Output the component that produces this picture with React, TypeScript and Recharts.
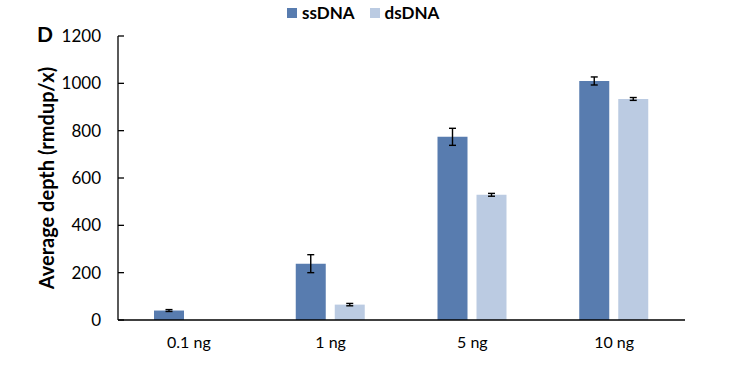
import React from 'react';
import { BarChart, Bar, XAxis, YAxis, ErrorBar, Legend } from 'recharts';

const categories = ['0.1 ng', '1 ng', '5 ng', '10 ng'];
const ssDNA = [40, 238, 774, 1010];
const ssDNAErr = [4, 38, 36, 17];
const dsDNA: (number | null)[] = [null, 65, 529, 934];
const dsDNAErr: (number | null)[] = [null, 5, 6, 6];
const yTicks = [0, 200, 400, 600, 800, 1000, 1200];

const SS_COLOR = '#587CAF';
const DS_COLOR = '#BBCBE2';
const FONT = 'Lato, "Open Sans", sans-serif';

const data = categories.map((c, i) => ({
  name: c,
  ssDNA: ssDNA[i],
  ssErr: ssDNAErr[i],
  dsDNA: dsDNA[i],
  dsErr: dsDNAErr[i],
}));

const LegendContent = () => (
  <div
    style={{
      position: 'absolute',
      left: 287,
      top: 2,
      display: 'flex',
      alignItems: 'center',
      fontFamily: FONT,
      fontWeight: 700,
      fontSize: 17,
      color: '#000',
      whiteSpace: 'nowrap',
    }}
  >
    <span style={{ width: 10, height: 10, background: SS_COLOR, display: 'inline-block', marginRight: 5 }} />
    <span style={{ marginRight: 15 }}>ssDNA</span>
    <span style={{ width: 10, height: 10, background: DS_COLOR, display: 'inline-block', marginRight: 5 }} />
    <span>dsDNA</span>
  </div>
);

export default function App() {
  return (
    <div style={{ position: 'absolute', left: 0, top: 0, width: 755, height: 370, background: '#fff' }}>
      <div
        style={{
          position: 'absolute',
          left: 37,
          top: 22,
          fontFamily: FONT,
          fontWeight: 700,
          fontSize: 21,
          lineHeight: '24px',
          color: '#000',
        }}
      >
        D
      </div>
      <BarChart
        width={755}
        height={370}
        data={data}
        margin={{ top: 36, right: 70, bottom: 20, left: 0 }}
        barSize={30}
        barGap={9}
      >
        <Legend verticalAlign="top" content={<LegendContent />} wrapperStyle={{ position: 'absolute', left: 0, top: 0, width: 755, height: 0 }} />
        <XAxis
          dataKey="name"
          height={30}
          axisLine={{ stroke: '#000', strokeWidth: 1.3 }}
          tickLine={false}
          tickSize={0}
          tickMargin={17}
          tick={{ fill: '#000', fontSize: 16, fontFamily: FONT }}
        />
        <YAxis
          width={118}
          domain={[0, 1200]}
          ticks={yTicks}
          interval={0}
          axisLine={{ stroke: '#000', strokeWidth: 1.3 }}
          tickLine={{ stroke: '#000', strokeWidth: 1.3 }}
          tickSize={-6}
          tickMargin={23}
          tick={{ fill: '#000', fontSize: 17, fontFamily: FONT }}
          label={{
            value: 'Average depth (rmdup/x)',
            angle: -90,
            position: 'center',
            dx: -12,
            style: { fontFamily: FONT, fontWeight: 700, fontSize: 20, fill: '#000', textAnchor: 'middle' },
          }}
        />
        <Bar dataKey="ssDNA" fill={SS_COLOR} isAnimationActive={false}>
          <ErrorBar dataKey="ssErr" width={3.5} stroke="#000" strokeWidth={1.4} />
        </Bar>
        <Bar dataKey="dsDNA" fill={DS_COLOR} isAnimationActive={false}>
          <ErrorBar dataKey="dsErr" width={3.5} stroke="#000" strokeWidth={1.4} />
        </Bar>
      </BarChart>
    </div>
  );
}
